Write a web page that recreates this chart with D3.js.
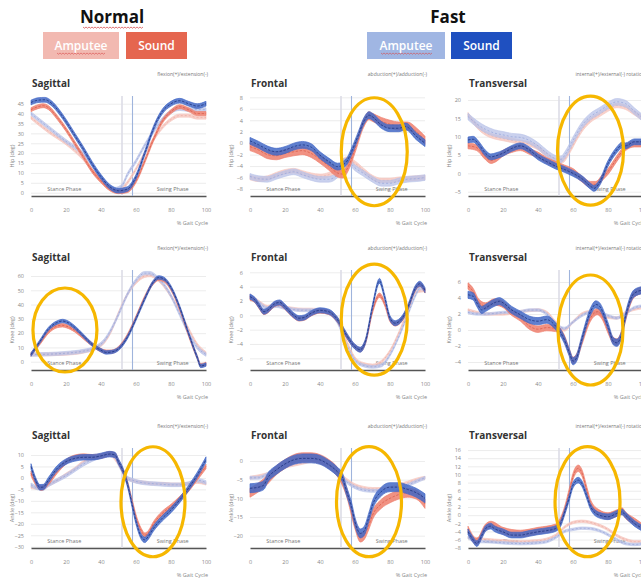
<!DOCTYPE html>
<html>
<head>
<meta charset="utf-8">
<script src="https://cdn.jsdelivr.net/npm/d3@7"></script>
<style>
  body { margin: 0; background: #fff; }
  svg { display: block; font-family: "Open Sans", "Liberation Sans", sans-serif; }
</style>
</head>
<body>
<div id="chart"></div>
<script>
const width = 641;
const height = 579;

// legend
const groups = ["Normal", "Fast"];
const subjects = ["Amputee", "Sound"];

// x axis
const xTicks = [0, 20, 40, 60, 80, 100];
const phaseLines = [52, 58];

// each series: [% gait cycle, mean angle]
const hipSag = {
  ampN: [[0,38],[10,31],[20,25],[30,17],[40,6],[45,2],[50,1],[55,5],[60,12],[65,20],[70,27],[75,33],[80,37],[85,39],[90,39],[95,38],[100,38]],
  ampF: [[0,40],[10,33],[20,26],[30,19.5],[40,8],[45,3],[48,1.8],[52,3.5],[55,9],[60,16],[65,24],[70,31],[75,37],[80,41],[85,42.5],[90,42],[95,42],[100,42]],
  soundN: [[0,42],[4,43.5],[7,44],[10,43],[15,38],[20,32],[25,25],[30,18],[35,11],[40,6],[45,2],[50,0.5],[55,1],[60,6],[65,16],[70,27],[75,36],[80,41],[85,43.5],[90,42],[95,40],[100,40]],
  soundF: [[0,45.6],[4,46.8],[8,47],[12,45],[16,41],[20,36],[25,29],[30,22],[35,14.5],[40,8],[45,3],[50,1],[55,1.8],[60,8],[65,20],[70,32.5],[75,41],[80,45],[85,46.5],[90,45],[95,43.8],[100,45]]
};
const hipFro = {
  ampN: [[0,-6],[5,-6.3],[10,-6.1],[15,-5.5],[20,-5],[25,-4.8],[30,-5.2],[35,-5.6],[40,-5.8],[45,-5.5],[50,-4.5],[55,-2.8],[60,-3.5],[65,-4.8],[70,-6],[75,-6.5],[80,-6.5],[85,-6.3],[90,-6.2],[95,-6.1],[100,-6]],
  ampF: [[0,-5.8],[5,-6.2],[10,-6.3],[15,-5.8],[20,-5.3],[25,-5],[30,-5.5],[35,-6],[40,-6.3],[45,-6.3],[50,-5.5],[53,-3.2],[56,-3.2],[60,-4.3],[65,-5.3],[70,-6.3],[75,-7],[80,-7],[85,-6.6],[90,-6.3],[95,-6.2],[100,-6]],
  soundN: [[0,-0.6],[5,-1.2],[10,-2],[15,-2.2],[20,-1.8],[25,-1.5],[30,-1.3],[35,-1.8],[40,-2.8],[45,-4],[50,-5.2],[53,-5.4],[56,-4.2],[60,-1],[65,3.5],[68,4.8],[70,4.5],[75,3.8],[80,3.3],[85,3],[90,3],[95,2],[100,0.5]],
  soundF: [[0,0.4],[5,-0.3],[10,-1.1],[15,-1.5],[20,-1.2],[25,-0.6],[30,-0.3],[35,-0.7],[40,-2.1],[45,-3.2],[50,-4.1],[55,-3.3],[58,-1.5],[62,1.5],[65,3.8],[68,4.9],[70,4.6],[75,3.2],[80,2.6],[85,2.6],[89,2.9],[95,1.2],[100,0]]
};
const hipTra = {
  ampN: [[0,16],[5,13],[10,11],[15,10],[20,9.5],[25,9],[30,8.5],[35,8],[40,7],[45,5],[50,3.5],[54,3.5],[58,6],[62,9.5],[66,12.5],[70,14.5],[75,16],[80,17.5],[85,18.5],[90,18],[95,16.5],[100,15]],
  ampF: [[0,15.5],[5,13.5],[10,12],[15,11],[20,10.5],[25,10],[30,9.8],[35,9],[40,7.5],[45,5.5],[50,4],[53,3.8],[56,5.5],[60,9],[65,13],[70,15.5],[75,17],[80,18.5],[85,19.5],[90,19],[95,17],[100,15]],
  soundN: [[0,7.5],[5,7],[10,4.5],[13,3.5],[16,4],[20,5.5],[25,6.5],[30,7],[35,6],[40,5],[45,3.5],[50,2.5],[55,1.5],[60,0.5],[65,-1.5],[70,-3],[73,-3],[77,-1],[80,0.5],[85,4],[90,7],[95,8],[100,8]],
  soundF: [[0,9.1],[3,9.3],[6,8],[10,5.5],[13,4.5],[16,4.8],[20,5.5],[25,6.8],[30,7.5],[35,6.4],[40,4.5],[45,3.2],[50,2],[55,1.1],[60,0],[65,-1.4],[70,-3.5],[72,-4.1],[75,-2.7],[80,2.7],[85,6.4],[88,7.7],[90,7.5],[95,8.6],[100,8.6]]
};
const kneeSag = {
  ampN: [[0,5],[10,5.2],[20,5.6],[30,7],[37,9.5],[42,14],[46,22],[50,34],[55,47],[60,55.5],[65,60],[68,60.5],[72,58],[76,53],[80,46],[85,35],[90,23],[95,12],[100,6]],
  ampF: [[0,5],[10,5.3],[20,6],[30,7.5],[37,10],[42,15],[46,23],[50,33],[55,47],[60,57],[65,62],[68,62],[72,59],[76,54],[80,46],[85,33],[90,20],[95,10],[100,5]],
  soundN: [[0,5],[5,13],[10,21],[15,25],[18,25.5],[20,25],[25,22],[30,17],[35,12],[40,8],[43,7],[46,7],[50,9.5],[55,18],[60,31],[65,45],[70,55.5],[73,58],[76,57],[80,51],[85,37],[90,19],[95,3],[97,-2.5],[100,-1.5]],
  soundF: [[0,5],[5,14],[10,23],[15,27.5],[18,28.5],[20,28],[25,24],[30,18],[35,12],[40,8],[43,6.5],[46,6.8],[50,9],[55,17],[60,30],[65,44],[70,56],[73,59],[76,58],[80,52],[85,38],[90,20],[95,3],[97,-3],[100,-2]]
};
const kneeFro = {
  ampN: [[0,2.8],[5,1.9],[10,1.2],[15,1.4],[20,1.1],[25,0.9],[30,0.8],[35,0.8],[40,0.7],[45,0.4],[50,-0.5],[55,-3.5],[60,-6],[65,-6.8],[70,-7],[75,-6.5],[80,-5],[85,-2.5],[90,0.5],[95,3.3],[100,3.5]],
  ampF: [[0,2.8],[5,1.8],[10,1],[15,1.3],[20,1],[25,0.8],[30,0.7],[35,0.7],[40,0.6],[45,0.3],[50,-1],[55,-4],[60,-6.3],[65,-7],[70,-7.2],[75,-7],[80,-5.5],[85,-3],[90,0],[95,3],[97,3.8],[100,3.5]],
  soundN: [[0,2.4],[3,2],[5,1.3],[8,0.4],[10,0.6],[14,1.5],[17,1.7],[20,1.1],[25,-0.1],[28,-0.5],[31,-0.4],[35,0.2],[40,0.6],[45,0.4],[50,-0.7],[55,-2.8],[60,-4.4],[63,-4.8],[66,-3.7],[70,0.6],[74,2.8],[77,1.6],[80,-0.6],[83,-1.2],[85,-1],[88,-0.1],[90,0.9],[95,3.9],[97,4.3],[100,3.4]],
  soundF: [[0,2.6],[3,2.1],[5,1.4],[8,0.5],[10,0.7],[14,1.6],[17,1.8],[20,1.2],[25,0],[28,-0.4],[31,-0.3],[35,0.3],[40,0.7],[45,0.5],[50,-0.6],[55,-2.7],[60,-4.4],[63,-4.8],[66,-3.6],[70,1.2],[74,4.8],[77,2.5],[80,-0.4],[83,-1.1],[85,-0.9],[88,0],[90,1],[95,4],[97,4.4],[100,3.5]]
};
const kneeTra = {
  ampN: [[0,2.5],[5,2.2],[10,2],[20,2],[30,2.3],[40,2.5],[45,2.2],[50,1],[55,0],[60,1],[65,2],[70,2.3],[75,2],[80,1.6],[85,1.5],[90,2.2],[95,2.6],[100,2.8]],
  ampF: [[0,2.2],[5,2],[10,2],[20,2.2],[30,2.3],[35,2.5],[40,2.5],[45,2],[50,0.8],[55,0.2],[60,1],[65,1.8],[70,2.2],[75,2.2],[80,1.8],[85,1.5],[90,2],[95,2.8],[100,3]],
  soundN: [[0,5.5],[3,4.8],[6,3.5],[10,3],[15,3.5],[18,3.4],[20,3.2],[25,2.2],[30,1.5],[35,0.5],[40,0.1],[45,0.3],[50,0.2],[55,-1],[58,-2.8],[60,-3.8],[62,-3.4],[65,-1.5],[70,1.5],[74,2.3],[77,1.6],[80,0],[83,-1.3],[85,-1.5],[88,-0.3],[90,1.5],[95,4.5],[100,5]],
  soundF: [[0,4.4],[3,4.2],[5,3.4],[8,2.5],[10,2.75],[15,3.4],[18,3.6],[20,3.4],[25,2.5],[30,1.9],[35,1.3],[40,1.1],[45,1.3],[50,0.5],[55,-1.2],[58,-2.9],[60,-3.9],[62,-3.5],[65,-1.2],[70,2.3],[73,3.2],[75,3],[80,0.5],[83,-1.4],[85,-1.6],[88,-0.4],[90,1.7],[95,4.6],[100,5]]
};
const ankSag = {
  ampN: [[0,-4],[5,-4.5],[10,-3],[15,-1],[20,1.5],[25,4],[30,7],[35,8.5],[40,9.5],[45,10],[50,6],[53,2],[55,0],[60,-1.5],[65,-2],[70,-2.5],[75,-2.5],[80,-2.8],[85,-2.8],[90,-2.5],[95,-1.8],[100,-2.5]],
  ampF: [[0,-3],[5,-4.5],[7,-4.5],[10,-3],[15,-1],[20,1],[25,3.5],[30,6],[35,8],[40,9.5],[45,10],[48,9.5],[50,6],[53,2],[55,0],[58,-1],[60,-1.5],[65,-2.2],[70,-2.5],[75,-2.8],[80,-3],[85,-3],[90,-2.5],[95,-1],[100,-2]],
  soundN: [[0,2],[3,-2.5],[6,-4.5],[10,-2],[15,3],[20,7],[25,9],[30,9.5],[35,9.2],[40,9.5],[45,10.5],[48,10],[50,7],[55,-2],[58,-11],[60,-17],[63,-23],[65,-25],[67,-24],[70,-20],[75,-15.5],[80,-12.5],[85,-9],[90,-5],[95,0],[100,5]],
  soundF: [[0,5],[3,-1.6],[5,-4.1],[7,-4],[10,-0.9],[15,4.2],[20,7.1],[25,8.5],[30,9],[35,9],[40,9.6],[45,10.4],[48,10],[50,7.1],[52,4.2],[55,-2.4],[58,-12.5],[60,-19],[63,-25.6],[65,-27],[67,-25.6],[70,-22],[75,-17.6],[80,-14],[85,-9.6],[90,-4.5],[95,1.3],[100,8]]
};
const ankFro = {
  ampN: [[0,-4.5],[10,-3.5],[20,-1.5],[25,-1],[30,-0.5],[35,0],[40,-0.3],[45,-1.3],[50,-3],[55,-5],[60,-6.5],[65,-7.2],[70,-7.5],[75,-7.5],[80,-7.2],[85,-6.5],[90,-5.8],[95,-5],[100,-4.5]],
  ampF: [[0,-4.5],[5,-4.5],[10,-3.5],[15,-2],[20,-1],[25,-0.3],[30,0.3],[35,0.5],[40,0],[45,-1],[50,-3],[55,-5.5],[60,-7],[65,-7.8],[70,-8],[75,-8],[80,-7.8],[85,-7.5],[90,-6.5],[95,-5.5],[100,-4.5]],
  soundN: [[0,-8.5],[5,-7],[10,-5],[15,-2.5],[20,-0.8],[25,0.5],[30,1],[35,1],[40,0.5],[45,-0.8],[50,-3],[55,-8],[60,-17],[63,-20.5],[65,-20],[68,-17],[70,-14.5],[75,-11.5],[80,-10],[85,-9],[90,-8.5],[95,-9],[100,-11.5]],
  soundF: [[0,-7.3],[5,-7],[8,-6.4],[10,-4.6],[15,-2.4],[20,-0.8],[25,0.3],[30,0.7],[35,0.7],[40,0.3],[45,-1],[50,-2.9],[53,-4.6],[55,-7.8],[58,-12.2],[60,-16.3],[62,-18.9],[63,-19.4],[65,-18.9],[68,-14.9],[70,-11.8],[75,-8.2],[80,-7],[85,-7],[90,-7.6],[95,-8.5],[100,-10]]
};
const ankTra = {
  ampN: [[0,-5.5],[10,-6],[20,-6.3],[30,-6.5],[40,-6.3],[50,-5],[55,-3],[60,-1.8],[65,-1.5],[70,-1.8],[75,-2.5],[80,-3.5],[85,-5],[90,-6],[95,-6.5],[100,-6.5]],
  ampF: [[0,-5.5],[5,-6.5],[10,-6.5],[20,-6.8],[30,-7],[40,-6.8],[45,-6.5],[50,-5.5],[55,-4],[60,-3.5],[65,-3.2],[70,-3.3],[75,-3.8],[80,-4.8],[85,-6],[90,-7],[95,-7.2],[100,-7]],
  soundN: [[0,-3.5],[5,-6.5],[10,-3],[13,-2.3],[20,-3.8],[30,-4.5],[40,-3.8],[50,-3],[55,1],[58,6],[60,9.5],[63,11.5],[65,10.5],[68,6],[70,3],[75,0.5],[80,-0.2],[85,0.5],[88,1],[90,0],[95,-1.5],[100,-3]],
  soundF: [[0,-4.1],[3,-6.1],[5,-7],[8,-4.9],[10,-3.3],[13,-2.7],[15,-3.3],[20,-4.1],[25,-4.9],[30,-4.9],[35,-4.5],[40,-4.1],[45,-3.8],[50,-3.3],[53,-2],[55,0.4],[58,4.5],[60,7.4],[63,8.6],[65,7.8],[68,4.5],[70,2.1],[75,0],[80,-0.4],[85,0.4],[88,0.8],[90,0],[95,-2],[100,-3.3]]
};

// band half-widths (deg) read from the shaded spread
const hipSagSd = { ampN: 0.8, ampF: 0.9, soundN: 1.0, soundF: 1.2 };
const hipFroSd = { ampN: 0.4, ampF: 0.5, soundN: 0.7, soundF: 0.6 };
const hipTraSd = { ampN: 0.6, ampF: 0.9, soundN: 0.8, soundF: 0.8 };
const kneeSagSd = { ampN: 1.0, ampF: 1.2, soundN: 1.2, soundF: 1.2 };
const kneeFroSd = { ampN: 0.2, ampF: 0.2, soundN: 0.3, soundF: 0.35 };
const kneeTraSd = { ampN: 0.15, ampF: 0.15, soundN: 0.4, soundF: 0.45 };
const ankSagSd = { ampN: 0.6, ampF: 0.8, soundN: 1.0, soundF: 1.2 };
const ankFroSd = { ampN: 0.4, ampF: 0.4, soundN: 1.2, soundF: 1.2 };
const ankTraSd = { ampN: 0.3, ampF: 0.3, soundN: 0.8, soundF: 0.7 };

// y ticks
const hipSagTicks = [0, 5, 10, 15, 20, 25, 30, 35, 40, 45];
const hipFroTicks = [-8, -6, -4, -2, 0, 2, 4, 6, 8];
const hipTraTicks = [-5, 0, 5, 10, 15, 20];
const kneeSagTicks = [0, 10, 20, 30, 40, 50, 60];
const kneeFroTicks = [-6, -4, -2, 0, 2, 4, 6];
const kneeTraTicks = [-4, -2, 0, 2, 4, 6];
const ankSagTicks = [-30, -25, -20, -15, -10, -5, 0, 5, 10];
const ankFroTicks = [-20, -15, -10, -5, 0];
const ankTraTicks = [-8, -6, -4, -2, 0, 2, 4, 6, 8, 10, 12, 14, 16];

const planes = ["Sagittal", "Frontal", "Transversal"];
const signs = ["flexion(+)/extension(-)", "abduction(+)/adduction(-)", "internal(+)/external(-) rotation"];
const joints = ["Hip (deg)", "Knee (deg)", "Ankle  (deg)"];

// layout
const colX = [31, 250, 468];
const plotW = 175;
const rowTop = [96, 270, 448];
const rowBottom = [196, 370, 548];

const panels = [
  { row: 0, col: 0, data: hipSag, sd: hipSagSd, ticks: hipSagTicks, domain: [-1.67, 48.9] },
  { row: 0, col: 1, data: hipFro, sd: hipFroSd, ticks: hipFroTicks, domain: [-9.22, 8.23], ring: [71, -1.5, 33, 54] },
  { row: 0, col: 2, data: hipTra, sd: hipTraSd, ticks: hipTraTicks, domain: [-6.17, 21.09], ring: [70, 6.2, 33, 54.5] },
  { row: 1, col: 0, data: kneeSag, sd: kneeSagSd, ticks: kneeSagTicks, domain: [-5.8, 64.2], ring: [19.4, 22.2, 32, 42] },
  { row: 1, col: 1, data: kneeFro, sd: kneeFroSd, ticks: kneeFroTicks, domain: [-7.63, 6.32], ring: [71, -0.6, 33, 55.5] },
  { row: 1, col: 2, data: kneeTra, sd: kneeTraSd, ticks: kneeTraTicks, domain: [-5, 7.5], ring: [70, 0, 32.5, 55] },
  { row: 2, col: 0, data: ankSag, sd: ankSagSd, ticks: ankSagTicks, domain: [-30.56, 13.05], ring: [69.7, -10.4, 32, 55] },
  { row: 2, col: 1, data: ankFro, sd: ankFroSd, ticks: ankFroTicks, domain: [-23.3, 3.48], ring: [68, -10.9, 32.5, 55] },
  { row: 2, col: 2, data: ankTra, sd: ankTraSd, ticks: ankTraTicks, domain: [-8.07, 16.5], ring: [68.3, 3.3, 32.5, 55] }
];

const seriesOrder = ["ampN", "ampF", "soundN", "soundF"];
const seriesStyle = {
  ampN:   { fill: "#f6c6be", op: 0.8,  line: "#eeb0a6", dash: "2,2" },
  ampF:   { fill: "#b8c2e8", op: 0.75, line: "#9aa8da", dash: "2,2" },
  soundN: { fill: "#ee7f6d", op: 0.85, line: "#da5f4c", dash: "2.5,1.5" },
  soundF: { fill: "#4368c6", op: 0.85, line: "#1d3480", dash: "2.5,1.5" }
};

const svg = d3.select("#chart").append("svg")
  .attr("width", width)
  .attr("height", height);

// ---- header legend ----
const legendBoxes = [
  { g: 0, s: 0, x: 43, w: 76, fill: "#f2b9b1" },
  { g: 0, s: 1, x: 126, w: 61, fill: "#e5664f" },
  { g: 1, s: 0, x: 367, w: 78, fill: "#a0b6e3" },
  { g: 1, s: 1, x: 451, w: 61, fill: "#1f50c0" }
];
const groupCenters = [112, 448];

groups.forEach((g, i) => {
  svg.append("text")
    .attr("x", groupCenters[i]).attr("y", 23)
    .attr("text-anchor", "middle")
    .attr("font-size", 17).attr("font-weight", "bold")
    .attr("fill", "#111")
    .text(g);
});

// red spell-check squiggle under "Normal"
const squiggle = (x0, x1, y) => {
  let d = `M${x0},${y}`;
  for (let x = x0, k = 0; x < x1; x += 1.5, k++) d += `L${x + 1.5},${y + (k % 2 ? 0 : 1.2)}`;
  return d;
};
svg.append("path").attr("d", squiggle(83, 142, 27))
  .attr("fill", "none").attr("stroke", "#d23b3b").attr("stroke-width", 0.7);

svg.selectAll(".lbox").data(legendBoxes).enter().append("rect")
  .attr("class", "lbox")
  .attr("x", d => d.x).attr("y", 32)
  .attr("width", d => d.w).attr("height", 27)
  .attr("fill", d => d.fill);

svg.selectAll(".ltxt").data(legendBoxes).enter().append("text")
  .attr("class", "ltxt")
  .attr("x", d => d.x + d.w / 2).attr("y", 49.5)
  .attr("text-anchor", "middle")
  .attr("font-size", 12).attr("font-weight", 600)
  .attr("fill", "#fff")
  .text(d => subjects[d.s]);

legendBoxes.filter(d => d.s === 0).forEach(d => {
  svg.append("path").attr("d", squiggle(d.x + 14, d.x + d.w - 14, 53))
    .attr("fill", "none").attr("stroke", "#d84a4a").attr("stroke-width", 0.6);
});

// ---- panels ----
panels.forEach(p => {
  const x0 = colX[p.col];
  const x = d3.scaleLinear().domain([0, 100]).range([x0, x0 + plotW]);
  const y = d3.scaleLinear().domain(p.domain).range([rowBottom[p.row], rowTop[p.row]]);
  const g = svg.append("g");

  // title + sign convention
  g.append("text")
    .attr("x", x0 + 1).attr("y", rowTop[p.row] - 9)
    .attr("font-size", 10).attr("font-weight", "bold").attr("fill", "#333")
    .text(planes[p.col]);
  g.append("text")
    .attr("x", x0 + 177).attr("y", rowTop[p.row] - 20)
    .attr("text-anchor", "end")
    .attr("font-size", 5).attr("fill", "#777")
    .text(signs[p.col]);

  // grid + y axis
  const yAxis = d3.axisLeft(y).tickValues(p.ticks).tickSize(-plotW).tickPadding(7);
  g.append("g")
    .attr("transform", `translate(${x0},0)`)
    .call(yAxis)
    .call(a => a.select(".domain").remove())
    .call(a => a.selectAll("line").attr("stroke", "#e4e4e4").attr("stroke-width", 0.7))
    .call(a => a.selectAll("text").attr("fill", "#888").attr("font-size", 5.5)
      .attr("font-family", "'Open Sans', sans-serif"));

  g.append("text")
    .attr("transform", `translate(${x0 - 17},${(rowTop[p.row] + rowBottom[p.row]) / 2 + 10}) rotate(-90)`)
    .attr("text-anchor", "middle")
    .attr("font-size", 5.5).attr("fill", "#888")
    .text(joints[p.row]);

  // x axis
  const xAxis = d3.axisBottom(x).tickValues(xTicks).tickSize(0).tickPadding(12);
  g.append("g")
    .attr("transform", `translate(0,${rowBottom[p.row]})`)
    .call(xAxis)
    .call(a => a.select(".domain").attr("stroke", "#555").attr("stroke-width", 1.4))
    .call(a => a.selectAll("text").attr("fill", "#888").attr("font-size", 5.5)
      .attr("font-family", "'Open Sans', sans-serif"));

  g.append("text")
    .attr("x", x0 + 177).attr("y", rowBottom[p.row] + 29)
    .attr("text-anchor", "end")
    .attr("font-size", 5.5).attr("fill", "#888")
    .text("% Gait Cycle");

  // phase separators
  g.selectAll(".phase").data(phaseLines).enter().append("line")
    .attr("x1", d => x(d)).attr("x2", d => x(d))
    .attr("y1", rowTop[p.row]).attr("y2", rowBottom[p.row])
    .attr("stroke", (d, i) => i === 0 ? "#dcdce6" : "#9fb4dc")
    .attr("stroke-width", (d, i) => i === 0 ? 1.6 : 1.1);

  g.append("text")
    .attr("x", x(19)).attr("y", rowBottom[p.row] - 5)
    .attr("text-anchor", "middle").attr("font-size", 5.5).attr("fill", "#777")
    .text("Stance Phase");
  g.append("text")
    .attr("x", x(81)).attr("y", rowBottom[p.row] - 5)
    .attr("text-anchor", "middle").attr("font-size", 5.5).attr("fill", "#777")
    .text("Swing Phase");

  // bands and mean lines
  seriesOrder.forEach(key => {
    const pts = p.data[key];
    const sd = p.sd[key];
    const st = seriesStyle[key];
    const area = d3.area()
      .x(d => x(d[0]))
      .y0(d => y(d[1] - sd))
      .y1(d => y(d[1] + sd))
      .curve(d3.curveMonotoneX);
    const line = d3.line()
      .x(d => x(d[0]))
      .y(d => y(d[1]))
      .curve(d3.curveMonotoneX);
    g.append("path").datum(pts)
      .attr("d", area)
      .attr("fill", st.fill).attr("fill-opacity", st.op)
      .attr("stroke", st.fill).attr("stroke-width", 0.8).attr("stroke-opacity", st.op);
    g.append("path").datum(pts)
      .attr("d", line)
      .attr("fill", "none")
      .attr("stroke", st.line).attr("stroke-width", 0.8)
      .attr("stroke-dasharray", st.dash);
  });

  // highlight ring
  if (p.ring) {
    g.append("ellipse")
      .attr("cx", x(p.ring[0])).attr("cy", y(p.ring[1]))
      .attr("rx", p.ring[2]).attr("ry", p.ring[3])
      .attr("fill", "none")
      .attr("stroke", "#f6b700").attr("stroke-width", 3.2);
  }
});
</script>
</body>
</html>
